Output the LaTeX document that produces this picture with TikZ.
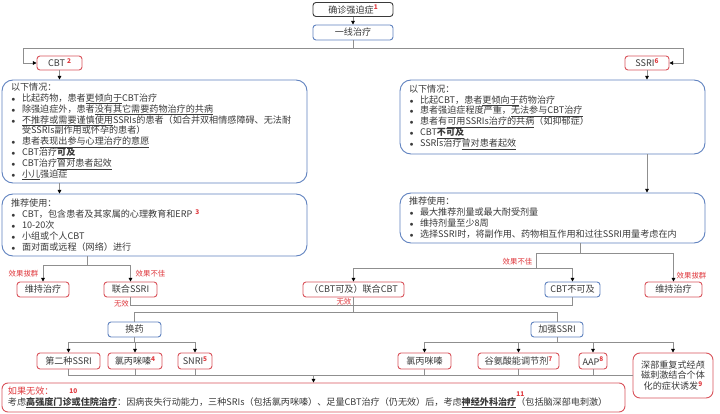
\documentclass[tikz,border=0pt]{standalone}
\usepackage{fontspec}
\setmainfont{Noto Sans CJK SC}
\usepackage{xcolor}
\usepackage{tikz}
\usetikzlibrary{arrows.meta}
\definecolor{ink}{HTML}{3A3A3A}
\definecolor{rim}{HTML}{D9535B}
\definecolor{blue}{HTML}{5F82BF}
\definecolor{wire}{HTML}{8F8F8F}
\definecolor{alert}{HTML}{E0393E}
\setlength{\parindent}{0pt}
\newcommand{\refmark}[1]{\raisebox{3.2pt}{\textcolor{alert}{\bfseries\fontsize{6.5}{7}\selectfont #1}}}
\newcommand{\itm}{\par\hangindent=11pt\hangafter=1\makebox[11pt][l]{\hspace{0.5pt}{\fontsize{7.5}{7.5}\selectfont$\bullet$}}}
\newcommand{\uln}[1]{\underline{#1}}

\begin{document}
\begin{tikzpicture}[x=1pt,y=-1pt,
  font=\fontsize{9.1}{10.9}\selectfont,
  every node/.style={text=ink},
  box/.style={draw,line width=0.9pt,rounded corners=3pt,fill=white,minimum height=15pt,inner sep=1pt,align=center},
  redbox/.style={box,draw=rim},
  bluebox/.style={box,draw=blue},
  darkbox/.style={box,draw=ink},
  panel/.style={draw=blue,line width=0.9pt,rounded corners=11pt,fill=white,inner xsep=9pt,inner ysep=2pt,text width=287pt,align=left},
  link/.style={draw=wire,line width=0.8pt},
  arrow/.style={link,-{Triangle[length=3.6pt,width=3.6pt,color=black]}},
  note/.style={text=alert,font=\fontsize{7.4}{8}\selectfont,inner sep=0.5pt}
]
\path[fill=white,use as bounding box] (0,0) rectangle (720,414);

% first line of treatment
\node[darkbox,minimum width=80pt,minimum height=14pt] (diagnosis) at (353,9.5) {确诊强迫症\refmark{1}};
\node[bluebox,minimum width=80pt] (firstline) at (353,32.5) {一线治疗};
\node[redbox,minimum width=45pt,minimum height=14pt] (cbt) at (59.5,63) {CBT \refmark{2}};
\node[redbox,minimum width=44pt,minimum height=14pt] (ssri) at (647,63) {SSRI\refmark{6}};

% panels
\node[panel,minimum height=103pt] (cbtwhen) at (154.5,131.5) {以下情况：
\itm 比起药物，患者\uln{更倾向于}CBT治疗
\itm 除强迫症外，患者\uln{没有其它需要药物治疗的共病}
\itm \uln{不推荐或需要谨慎使用}SSRIs的患者（如合并双相情感障碍、无法耐\hfil\break 受SSRIs副作用或怀孕的患者）
\itm 患者\uln{表现出参与心理治疗的意愿}
\itm CBT治疗\uln{\textbf{可及}}
\itm CBT治疗\uln{曾对患者起效}
\itm \uln{小儿}强迫症};
\node[panel,minimum height=62pt] (cbtuse) at (154.5,225) {推荐使用：
\itm CBT，包含患者及其家属的心理教育和ERP \refmark{3}
\itm 10-20次
\itm 小组或个人CBT
\itm 面对面或远程（网络）进行};
\node[panel,minimum height=74pt] (ssriwhen) at (552.5,117) {以下情况：
\itm 比起CBT，患者\uln{更倾向于}药物治疗
\itm 患者强迫症程度严重，\uln{无法参与CBT治疗}
\itm 患者有\uln{可用SSRIs治疗的共病}（如抑郁症）
\itm CBT\uln{\textbf{不可及}}
\itm SSRIs治疗\uln{曾对患者起效}};
\node[panel,minimum height=50pt] (ssriuse) at (552.5,218) {推荐使用：
\itm 最大推荐剂量或最大耐受剂量
\itm 维持剂量至少8周
\itm 选择SSRI时，将副作用、药物相互作用和过往SSRI用量考虑在内};

% response
\node[redbox,minimum width=52pt] (keepleft) at (43,289.5) {维持治疗};
\node[redbox,minimum width=53pt] (addssri) at (130.5,289.5) {联合SSRI};
\node[redbox,minimum width=101pt] (addcbt) at (353.5,289.5) {（CBT可及）联合CBT};
\node[bluebox,minimum width=55pt] (nocbt) at (572.5,289.5) {CBT不可及};
\node[redbox,minimum width=57pt] (keepright) at (673.5,289.5) {维持治疗};
\node[note,anchor=east] (goodleft) at (39,273.5) {效果拔群};
\node[note,anchor=west] (poorleft) at (135,273.5) {效果不佳};
\node[note,anchor=east] (poorright) at (533,261.5) {效果不佳};
\node[note,anchor=west] (goodright) at (676,276) {效果拔群};
\node[note,anchor=east] (failssri) at (129.5,303.5) {无效};
\node[note,anchor=east] (failcbt) at (352,301.5) {无效};

% next steps
\node[bluebox,minimum width=53pt] (switch) at (134.5,329.5) {换药};
\node[bluebox,minimum width=52pt] (boost) at (557,329.5) {加强SSRI};
\node[redbox,minimum width=63pt,minimum height=16pt] (secondssri) at (68.5,361) {第二种SSRI};
\node[redbox,minimum width=54pt,minimum height=16pt] (clomileft) at (135,361) {氯丙咪嗪\refmark{4}};
\node[redbox,minimum width=34pt,minimum height=16pt] (snri) at (195,361) {SNRI\refmark{5}};
\node[redbox,minimum width=53pt,minimum height=16pt] (clomiright) at (424.5,361) {氯丙咪嗪};
\node[redbox,minimum width=81pt,minimum height=16pt] (glutamate) at (518.5,361) {谷氨酸能调节剂\refmark{7}};
\node[redbox,minimum width=28pt,minimum height=16pt] (aap) at (593,361) {AAP\refmark{8}};
\node[redbox,minimum width=80pt,minimum height=45pt,rounded corners=7pt] (dtms) at (673,375.5) {深部重复式经颅\\磁刺激结合个体\\化的症状诱发\refmark{9}};
\node[redbox,minimum width=623pt,minimum height=29pt,text width=611pt,align=left,rounded corners=6pt] (lastresort) at (313.5,397.5) {\textcolor{alert}{如果无效：}\hspace{16pt}\raisebox{-2pt}{\refmark{10}}\par
考虑\uln{\textbf{高强度门诊或住院治疗}}：因病丧失行动能力，三种SRIs（包括氯丙咪嗪）、足量CBT治疗（仍无效）后，考虑\uln{\textbf{神经外科治疗}}\smash{\rlap{\raisebox{6pt}{\refmark{11}}}}（包括脑深部电刺激）};

% connectors
\draw[arrow] (diagnosis) -- (firstline);
\draw[arrow] (firstline.south) -- ++(0,7.5) -| ([xshift=-13pt]cbt.west) -- (cbt.west);
\draw[arrow] (firstline.south) -- ++(0,7.5) -| ([xshift=14pt]ssri.east) -- (ssri.east);
\draw[arrow] (cbt.south) -- (cbt.south |- cbtwhen.north);
\draw[arrow] (cbt.south |- cbtwhen.south) -- (cbt.south |- cbtuse.north);
\draw[arrow] (ssri.south) -- (ssri.south |- ssriwhen.north);
\draw[arrow] (ssri.south |- ssriwhen.south) -- (ssri.south |- ssriuse.north);

\coordinate (leftfork) at (87,265);
\draw[link] (leftfork |- cbtuse.south) -- (leftfork);
\draw[arrow] (leftfork) -| (keepleft.north);
\draw[arrow] (leftfork) -| (addssri.north);
\coordinate (rightfork) at (580,253);
\draw[link] (rightfork |- ssriuse.south) -- (rightfork);
\draw[arrow] (rightfork) -| (keepright.north);
\draw[link] (rightfork) -| (536,268) coordinate (poorfork);
\draw[arrow] (poorfork) -| (addcbt.north);
\draw[arrow] (poorfork) -| (nocbt.north);

\draw[link] (addssri.south) -- ++(0,7.5) -| (nocbt.south);
\draw[link] (addcbt.south) -- ++(0,15) coordinate (failfork);
\draw[link] (switch.north) |- (failfork) -| (boost.north);

\draw[link] (switch.south) -- ++(0,5) coordinate (switchfork);
\foreach \dst in {secondssri,clomileft,snri}
  \draw[arrow] (switchfork) -| (\dst.north);
\draw[link] (boost.south) -- ++(0,5) coordinate (boostfork);
\foreach \dst in {clomiright,glutamate,aap,dtms}
  \draw[arrow] (boostfork) -| (\dst.north);

\draw[link] (secondssri.south) |- (dtms.west);
\foreach \src in {clomileft,snri,clomiright,glutamate,aap}
  \draw[link] (\src.south) -- (\src.south |- dtms.west);
\draw[arrow] (lastresort.north |- dtms.west) -- (lastresort.north);
\end{tikzpicture}
\end{document}
